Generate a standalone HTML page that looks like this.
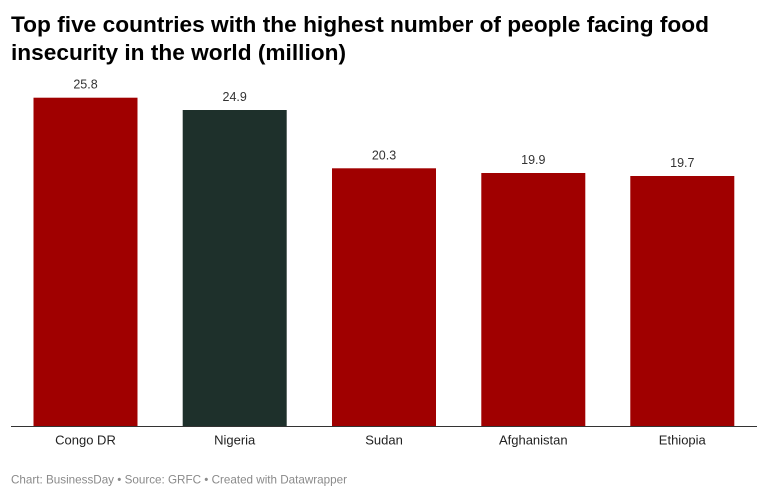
<!DOCTYPE html>
<html>
<head>
<meta charset="utf-8">
<style>
  html, body { margin:0; padding:0; background:#fff; }
  svg { display:block; }
  text { font-family: "Liberation Sans", Arial, sans-serif; }
</style>
</head>
<body>
<svg width="768" height="498" viewBox="0 0 768 498" xmlns="http://www.w3.org/2000/svg">
  <rect width="768" height="498" fill="#ffffff"/>
  <!-- Title -->
  <text x="11" y="32" font-size="22" font-weight="bold" fill="#000" textLength="698" lengthAdjust="spacingAndGlyphs">Top five countries with the highest number of people facing food</text>
  <text x="11" y="60" font-size="22" font-weight="bold" fill="#000" textLength="335" lengthAdjust="spacingAndGlyphs">insecurity in the world (million)</text>

  <!-- Bars -->
  <rect x="33.5" y="97.7" width="104" height="328.3" fill="#a00000"/>
  <rect x="182.7" y="110" width="104" height="316" fill="#1e302b"/>
  <rect x="332" y="168.3" width="104" height="257.7" fill="#a00000"/>
  <rect x="481.3" y="173" width="104" height="253" fill="#a00000"/>
  <rect x="630.3" y="176" width="104" height="250" fill="#a00000"/>

  <!-- Axis line -->
  <line x1="11" y1="426.5" x2="757" y2="426.5" stroke="#333" stroke-width="1"/>

  <!-- Value labels -->
  <g font-size="12.5" fill="#333" text-anchor="middle">
    <text x="85.5" y="88.5">25.8</text>
    <text x="234.7" y="101">24.9</text>
    <text x="384" y="159.3">20.3</text>
    <text x="533.3" y="164">19.9</text>
    <text x="682.3" y="167">19.7</text>
  </g>

  <!-- Category labels -->
  <g font-size="13" fill="#222" text-anchor="middle">
    <text x="85.5" y="444.5">Congo DR</text>
    <text x="234.7" y="444.5">Nigeria</text>
    <text x="384" y="444.5">Sudan</text>
    <text x="533.3" y="444.5">Afghanistan</text>
    <text x="682.3" y="444.5">Ethiopia</text>
  </g>

  <!-- Footer -->
  <text x="11" y="483.5" font-size="12" fill="#8a8a8a" textLength="336" lengthAdjust="spacingAndGlyphs">Chart: BusinessDay • Source: GRFC • Created with Datawrapper</text>
</svg>
</body>
</html>
